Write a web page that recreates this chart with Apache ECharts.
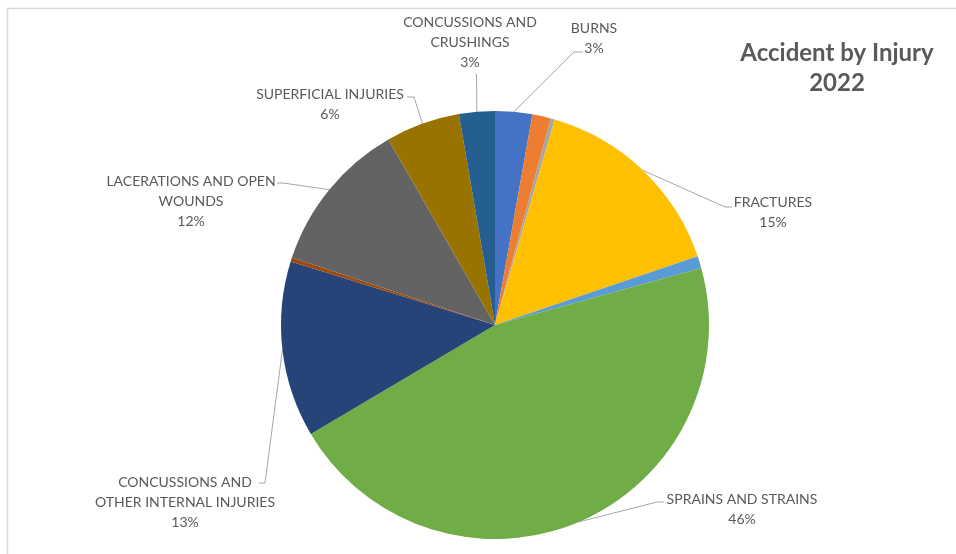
<!DOCTYPE html>
<html>
<head>
<meta charset="utf-8">
<script src="https://cdn.jsdelivr.net/npm/echarts@6/dist/echarts.min.js"></script>
<style>
html,body{margin:0;padding:0;background:#fff;}
#c{width:956px;height:554px;}
</style>
</head>
<body>
<div id="c"></div>
<script>
// Data (clockwise from 12 o'clock)
const categories = [
  'BURNS',
  'AMPUTATIONS',
  'ELECTRICAL INJURIES',
  'FRACTURES',
  'DISLOCATIONS',
  'SPRAINS AND STRAINS',
  'CONCUSSIONS AND\nOTHER INTERNAL INJURIES',
  'POISONINGS',
  'LACERATIONS AND OPEN\nWOUNDS',
  'SUPERFICIAL INJURIES',
  'CONCUSSIONS AND\nCRUSHINGS'
];
const values = [2.8, 1.4, 0.3, 15.3, 0.9, 45.8, 13.3, 0.3, 11.6, 5.6, 2.7];
const colors = ['#4472C4','#ED7D31','#A5A5A5','#FFC000','#5B9BD5','#70AD47','#264478','#9E480E','#636363','#997300','#255E91'];
const labelled = [true, false, false, true, false, true, true, false, true, true, true];

// label placement (annotation layout)
const labelPos = {
  0: {x: 594, y: 38.5, line: [[574, 52], [583, 52]]},
  3: {x: 773, y: 212, line: [[725, 207], [732, 207]]},
  5: {x: 742, y: 509, line: [[657, 502], [664, 502]]},
  6: {x: 185, y: 502, line: [[265, 483], [259, 483]]},
  8: {x: 191, y: 201, line: [[283, 183], [277, 183]]},
  9: {x: 330, y: 104, line: [[414, 97], [407, 97]]},
  10: {x: 470, y: 42, line: [[476.5, 74], [476.5, 74]]}
};

const chart = echarts.init(document.getElementById('c'), null, {renderer: 'canvas'});
const data = categories.map((n, i) => ({
  name: n,
  value: values[i],
  itemStyle: {color: colors[i]},
  label: {show: labelled[i]},
  labelLine: {show: labelled[i]}
}));

chart.setOption({
  animation: false,
  graphic: [
    {type: 'rect', shape: {x: 7.5, y: 8.5, width: 1200, height: 1200},
     style: {fill: 'none', stroke: '#d9d9d9', lineWidth: 1.5}, silent: true},
    {type: 'text', x: 837, y: 68,
     style: {text: 'Accident by Injury\n2022', fill: '#595959', font: 'bold 24px Lato',
             textAlign: 'center', textVerticalAlign: 'middle', lineHeight: 30}}
  ],
  series: [{
    type: 'pie',
    center: [495, 325],
    radius: 214,
    startAngle: 90,
    clockwise: true,
    percentPrecision: 0,
    avoidLabelOverlap: false,
    itemStyle: {borderWidth: 0},
    label: {
      show: true,
      formatter: '{b}\n{d}%',
      color: '#595959',
      fontFamily: 'Lato',
      fontSize: 14,
      lineHeight: 20,
      align: 'center'
    },
    labelLine: {show: true, lineStyle: {color: '#a6a6a6', width: 1}, length: 10, length2: 10},
    labelLayout: function (params) {
      const p = labelPos[params.dataIndex];
      if (!p) return {};
      const pts = params.labelLinePoints;
      const start = pts ? pts[0] : p.line[0];
      return {
        x: p.x, y: p.y, align: 'center', verticalAlign: 'middle',
        labelLinePoints: [start, p.line[0], p.line[1]]
      };
    },
    data: data
  }]
});
</script>
</body>
</html>
